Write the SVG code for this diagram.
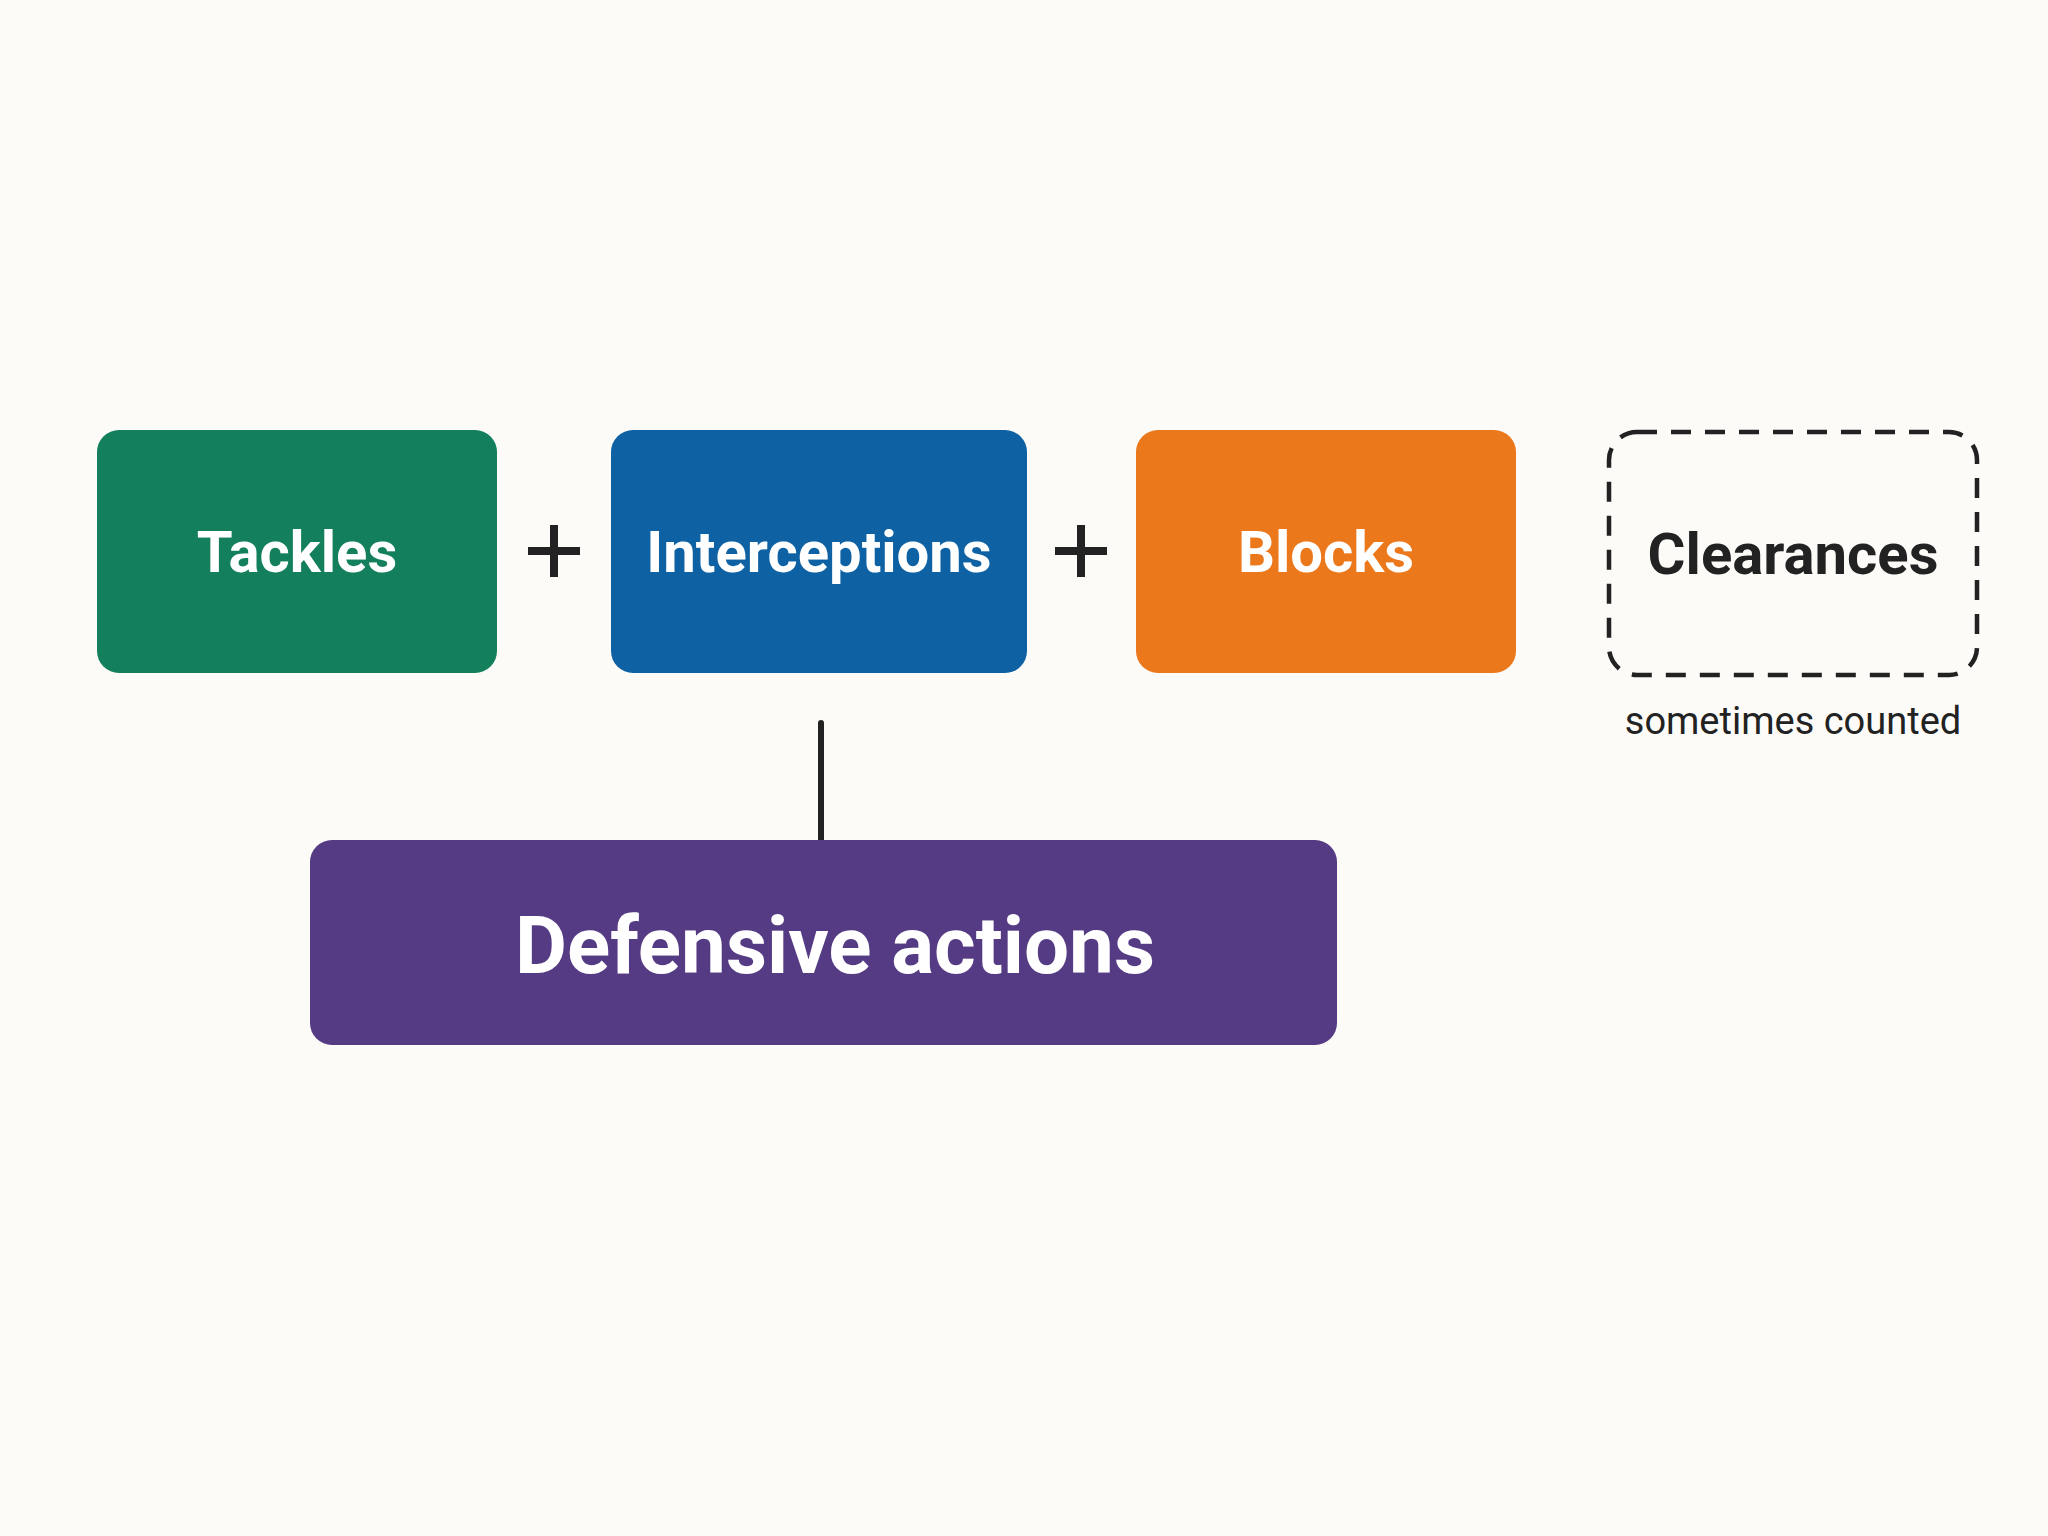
<svg xmlns="http://www.w3.org/2000/svg" width="2048" height="1536" viewBox="0 0 2048 1536">
<style>
.lbl{font-family:Roboto,"Liberation Sans",sans-serif;font-weight:bold;fill:#fff;text-anchor:middle;dominant-baseline:central}
.plus{stroke:#222;stroke-width:8}
</style>
<rect width="2048" height="1536" fill="#fcfbf8"/>
<g id="connectors">
<line x1="821" y1="723" x2="821" y2="840" stroke="#222" stroke-width="6" stroke-linecap="round"/>
<g class="plus"><line x1="528" y1="551" x2="580" y2="551"/><line x1="554" y1="525" x2="554" y2="577"/></g>
<g class="plus"><line x1="1055" y1="551" x2="1107" y2="551"/><line x1="1081" y1="525" x2="1081" y2="577"/></g>
</g>
<g id="tackles"><rect x="97" y="430" width="400" height="243" rx="22" fill="#137f5c"/><text class="lbl" x="297" y="552" font-size="58">Tackles</text></g>
<g id="interceptions"><rect x="611" y="430" width="416" height="243" rx="22" fill="#0e62a3"/><text class="lbl" x="819" y="552" font-size="58">Interceptions</text></g>
<g id="blocks"><rect x="1136" y="430" width="380" height="243" rx="22" fill="#ec781c"/><text class="lbl" x="1326" y="552" font-size="58">Blocks</text></g>
<g id="clearances"><rect x="1609" y="432" width="368" height="243" rx="28" fill="none" stroke="#222" stroke-width="4.5" stroke-dasharray="20 14"/><text class="lbl" x="1793" y="554" font-size="58" fill="#222" style="fill:#222">Clearances</text>
<text x="1793" y="721" font-size="38" font-family="Roboto,'Liberation Sans',sans-serif" fill="#222" text-anchor="middle" dominant-baseline="central">sometimes counted</text></g>
<g id="defensive"><rect x="310" y="840" width="1027" height="205" rx="22" fill="#553a84"/><text class="lbl" x="835" y="946" font-size="80">Defensive actions</text></g>
</svg>
